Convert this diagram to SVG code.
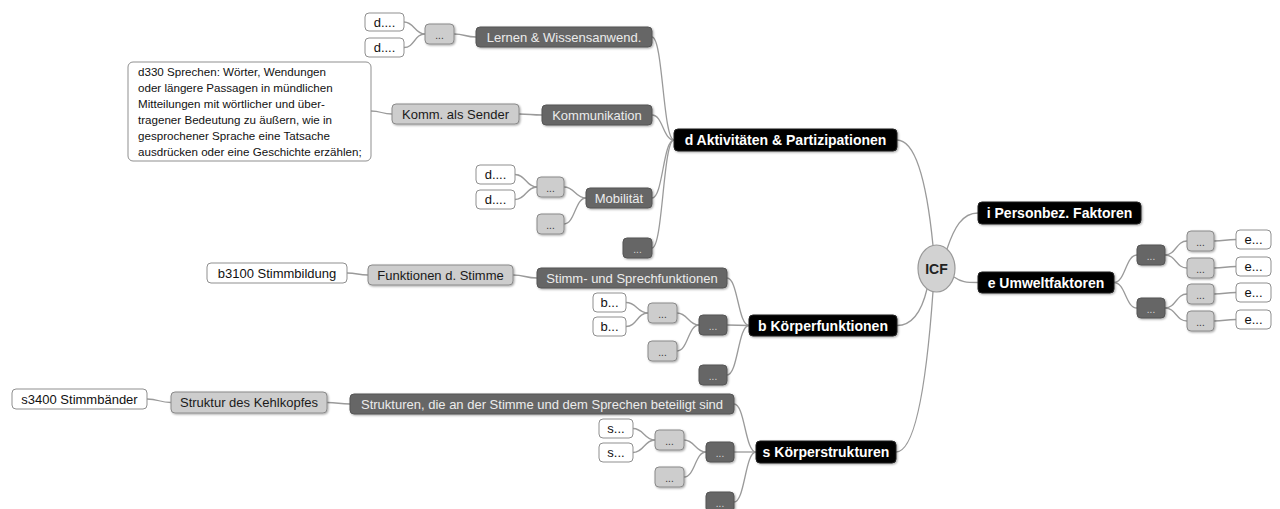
<svg xmlns="http://www.w3.org/2000/svg" width="1280" height="509" viewBox="0 0 1280 509">
<defs>
<filter id="sh" x="-10%" y="-20%" width="130%" height="160%">
<feDropShadow dx="1" dy="1" stdDeviation="0.8" flood-color="#000" flood-opacity="0.35"/>
</filter>
<style>
text{font-family:"Liberation Sans",Arial,sans-serif;}
.blk{fill:#000;stroke:#222;stroke-width:1;filter:url(#sh);}
.dk{fill:#666;stroke:#555;stroke-width:1;filter:url(#sh);}
.lt{fill:#cdcdcd;stroke:#8a8a8a;stroke-width:1;filter:url(#sh);}
.wh{fill:#fff;stroke:#8f8f8f;stroke-width:1;}
.tb{fill:#fff;font-size:14px;font-weight:bold;text-anchor:middle;}
.td{fill:#ececec;font-size:13px;text-anchor:middle;}
.tl{fill:#1a1a1a;font-size:13px;text-anchor:middle;}
.tw{fill:#111;font-size:13px;text-anchor:middle;}
.dd{fill:#d8d8d8;font-size:10px;text-anchor:middle;}
.dl{fill:#333;font-size:10px;text-anchor:middle;}
.para{fill:#111;font-size:11.6px;}
.con path{fill:none;stroke:#9a9a9a;stroke-width:1.3;}
</style>
</defs>
<rect width="1280" height="509" fill="#fff"/>

<g class="con" id="connectors">
<path d="M404,22 C414.5,22 414.5,34 425,34"/>
<path d="M404,47.5 C414.5,47.5 414.5,34 425,34"/>
<path d="M454,34 C465,34 465,37 476,37"/>
<path d="M652,37 C663,37 663,140 674,140"/>
<path d="M371,111 C381.5,111 381.5,114 392,114"/>
<path d="M519,114 C530.5,114 530.5,115 542,115"/>
<path d="M652,115 C663,115 663,140 674,140"/>
<path d="M515,174.5 C526,174.5 526,187 537,187"/>
<path d="M515,199.5 C526,199.5 526,187 537,187"/>
<path d="M564,187 C575,187 575,198 586,198"/>
<path d="M564,224 C575,224 575,198 586,198"/>
<path d="M652,198 C663,198 663,140 674,140"/>
<path d="M652,248 C663,248 663,140 674,140"/>
<path d="M897,140 C914,140 926,175 933,245.5"/>
<path d="M347,273 C357.5,273 357.5,275 368,275"/>
<path d="M513,275 C525,275 525,278 537,278"/>
<path d="M727,278 C738,278 738,325.5 749,325.5"/>
<path d="M626,302.5 C637,302.5 637,313 648,313"/>
<path d="M626,326.5 C637,326.5 637,313 648,313"/>
<path d="M677,313 C688,313 688,325 699,325"/>
<path d="M677,351 C688,351 688,325 699,325"/>
<path d="M727,325 L749,325.5"/>
<path d="M727,375 C738,375 738,325.5 749,325.5"/>
<path d="M897,325.5 C913,325.5 922,310 927,289"/>
<path d="M147,399 C159,399 159,402.5 171,402.5"/>
<path d="M327,402.5 C338.5,402.5 338.5,404 350,404"/>
<path d="M734,404 C745,404 745,452 756,452"/>
<path d="M633,428.5 C644,428.5 644,440 655,440"/>
<path d="M633,452.5 C644,452.5 644,440 655,440"/>
<path d="M684,440 C695,440 695,452 706,452"/>
<path d="M684,477 C695,477 695,452 706,452"/>
<path d="M734,452 L756,452"/>
<path d="M734,502 C745,502 745,452 756,452"/>
<path d="M896,452 C914,452 926,390 933,291.5"/>
<path d="M947,249 C954,228 962,213 978,213"/>
<path d="M954,277 C961,282 966,282.5 978,282.5"/>
<path d="M1114,282.5 C1125.5,282.5 1125.5,255 1137,255"/>
<path d="M1114,282.5 C1125.5,282.5 1125.5,308 1137,308"/>
<path d="M1165,255 C1176,255 1176,241 1187,241"/>
<path d="M1165,255 C1176,255 1176,268 1187,268"/>
<path d="M1165,308 C1176,308 1176,294 1187,294"/>
<path d="M1165,308 C1176,308 1176,321 1187,321"/>
<path d="M1214,241 C1225,241 1225,239.5 1236,239.5"/>
<path d="M1214,268 C1225,268 1225,266.5 1236,266.5"/>
<path d="M1214,294 C1225,294 1225,292.5 1236,292.5"/>
<path d="M1214,321 C1225,321 1225,319.5 1236,319.5"/>
</g>

<g id="icf">
<ellipse cx="936.5" cy="268.5" rx="18.5" ry="23.5" fill="#d2d2d2" stroke="#999" stroke-width="1.2"/>
<text x="936.5" y="274" style="fill:#222;font-size:14px;font-weight:bold;text-anchor:middle;">ICF</text>
</g>

<!-- right side -->
<g id="n-i"><rect class="blk" x="978" y="202" width="163" height="22" rx="4"/><text class="tb" x="1059.5" y="218">i Personbez. Faktoren</text></g>
<g id="n-e"><rect class="blk" x="978" y="272" width="136" height="21" rx="4"/><text class="tb" x="1046" y="287.5">e Umweltfaktoren</text></g>
<g id="n-e-d1"><rect class="dk" x="1137" y="245" width="28" height="20" rx="4"/><text class="dd" x="1151" y="259.5">...</text></g>
<g id="n-e-d2"><rect class="dk" x="1137" y="298" width="28" height="20" rx="4"/><text class="dd" x="1151" y="312.5">...</text></g>
<g id="n-e-g1"><rect class="lt" x="1187" y="231" width="27" height="20" rx="4"/><text class="dl" x="1200.5" y="245.5">...</text></g>
<g id="n-e-g2"><rect class="lt" x="1187" y="258" width="27" height="20" rx="4"/><text class="dl" x="1200.5" y="272.5">...</text></g>
<g id="n-e-g3"><rect class="lt" x="1187" y="284" width="27" height="20" rx="4"/><text class="dl" x="1200.5" y="298.5">...</text></g>
<g id="n-e-g4"><rect class="lt" x="1187" y="311" width="27" height="20" rx="4"/><text class="dl" x="1200.5" y="325.5">...</text></g>
<g id="n-e-w1"><rect class="wh" x="1236" y="230" width="35" height="19" rx="4"/><text class="tw" x="1253.5" y="244">e...</text></g>
<g id="n-e-w2"><rect class="wh" x="1236" y="257" width="35" height="19" rx="4"/><text class="tw" x="1253.5" y="271">e...</text></g>
<g id="n-e-w3"><rect class="wh" x="1236" y="283" width="35" height="19" rx="4"/><text class="tw" x="1253.5" y="297">e...</text></g>
<g id="n-e-w4"><rect class="wh" x="1236" y="310" width="35" height="19" rx="4"/><text class="tw" x="1253.5" y="324">e...</text></g>

<!-- d branch -->
<g id="n-d"><rect class="blk" x="674" y="129" width="223" height="22" rx="4"/><text class="tb" x="785.5" y="145">d Aktivitäten &amp; Partizipationen</text></g>
<g id="n-lernen"><rect class="dk" x="476" y="27" width="176" height="20" rx="4"/><text class="td" x="564" y="41.5">Lernen &amp; Wissensanwend.</text></g>
<g id="n-lernen-g"><rect class="lt" x="425" y="24" width="29" height="20" rx="4"/><text class="dl" x="439.5" y="38.5">...</text></g>
<g id="n-lernen-w1"><rect class="wh" x="365" y="13" width="39" height="18" rx="4"/><text class="tw" x="384.5" y="26.5">d....</text></g>
<g id="n-lernen-w2"><rect class="wh" x="365" y="38" width="39" height="19" rx="4"/><text class="tw" x="384.5" y="52">d....</text></g>
<g id="n-komm"><rect class="dk" x="542" y="105" width="110" height="20" rx="4"/><text class="td" x="597" y="119.5">Kommunikation</text></g>
<g id="n-sender"><rect class="lt" x="392" y="104" width="127" height="20" rx="4"/><text class="tl" x="455.5" y="118.5">Komm. als Sender</text></g>
<g id="n-d330">
<rect class="wh" x="128" y="62" width="243" height="99" rx="5"/>
<text class="para" x="138" y="76">d330 Sprechen: Wörter, Wendungen</text>
<text class="para" x="138" y="92">oder längere Passagen in mündlichen</text>
<text class="para" x="138" y="108">Mitteilungen mit wörtlicher und über-</text>
<text class="para" x="138" y="124">tragener Bedeutung zu äußern, wie in</text>
<text class="para" x="138" y="140">gesprochener Sprache eine Tatsache</text>
<text class="para" x="138" y="156">ausdrücken oder eine Geschichte erzählen;</text>
</g>
<g id="n-mob"><rect class="dk" x="586" y="188" width="66" height="20" rx="4"/><text class="td" x="619" y="202.5">Mobilität</text></g>
<g id="n-mob-g1"><rect class="lt" x="537" y="177" width="27" height="20" rx="4"/><text class="dl" x="550.5" y="191.5">...</text></g>
<g id="n-mob-g2"><rect class="lt" x="537" y="214" width="27" height="20" rx="4"/><text class="dl" x="550.5" y="228.5">...</text></g>
<g id="n-mob-w1"><rect class="wh" x="476" y="165" width="39" height="19" rx="4"/><text class="tw" x="495.5" y="179">d....</text></g>
<g id="n-mob-w2"><rect class="wh" x="476" y="190" width="39" height="19" rx="4"/><text class="tw" x="495.5" y="204">d....</text></g>
<g id="n-d-more"><rect class="dk" x="623" y="238" width="29" height="20" rx="4"/><text class="dd" x="637.5" y="252.5">...</text></g>

<!-- b branch -->
<g id="n-b"><rect class="blk" x="749" y="315" width="148" height="21" rx="4"/><text class="tb" x="823" y="330.5">b Körperfunktionen</text></g>
<g id="n-stimm"><rect class="dk" x="537" y="268" width="190" height="20" rx="4"/><text class="td" x="632" y="282.5">Stimm- und Sprechfunktionen</text></g>
<g id="n-funkt"><rect class="lt" x="368" y="265" width="145" height="20" rx="4"/><text class="tl" x="440.5" y="279.5">Funktionen d. Stimme</text></g>
<g id="n-b3100"><rect class="wh" x="207" y="263" width="140" height="20" rx="4"/><text class="tw" x="277" y="277.5">b3100 Stimmbildung</text></g>
<g id="n-b-d1"><rect class="dk" x="699" y="315" width="28" height="20" rx="4"/><text class="dd" x="713" y="329.5">...</text></g>
<g id="n-b-g1"><rect class="lt" x="648" y="303" width="29" height="20" rx="4"/><text class="dl" x="662.5" y="317.5">...</text></g>
<g id="n-b-w1"><rect class="wh" x="593" y="293" width="33" height="19" rx="4"/><text class="tw" x="609.5" y="307">b...</text></g>
<g id="n-b-w2"><rect class="wh" x="593" y="317" width="33" height="19" rx="4"/><text class="tw" x="609.5" y="331">b...</text></g>
<g id="n-b-g2"><rect class="lt" x="648" y="341" width="29" height="20" rx="4"/><text class="dl" x="662.5" y="355.5">...</text></g>
<g id="n-b-d2"><rect class="dk" x="699" y="365" width="28" height="20" rx="4"/><text class="dd" x="713" y="379.5">...</text></g>

<!-- s branch -->
<g id="n-s"><rect class="blk" x="756" y="441" width="140" height="22" rx="4"/><text class="tb" x="826" y="457">s Körperstrukturen</text></g>
<g id="n-strukturen"><rect class="dk" x="350" y="394" width="384" height="20" rx="4"/><text class="td" x="542" y="408.5">Strukturen, die an der Stimme und dem Sprechen beteiligt sind</text></g>
<g id="n-kehlkopf"><rect class="lt" x="171" y="392" width="156" height="21" rx="4"/><text class="tl" x="249" y="407">Struktur des Kehlkopfes</text></g>
<g id="n-s3400"><rect class="wh" x="12" y="389" width="135" height="20" rx="4"/><text class="tw" x="79.5" y="403.5">s3400 Stimmbänder</text></g>
<g id="n-s-d1"><rect class="dk" x="706" y="442" width="28" height="20" rx="4"/><text class="dd" x="720" y="456.5">...</text></g>
<g id="n-s-g1"><rect class="lt" x="655" y="430" width="29" height="20" rx="4"/><text class="dl" x="669.5" y="444.5">...</text></g>
<g id="n-s-w1"><rect class="wh" x="599" y="419" width="34" height="19" rx="4"/><text class="tw" x="616" y="433">s...</text></g>
<g id="n-s-w2"><rect class="wh" x="599" y="443" width="34" height="19" rx="4"/><text class="tw" x="616" y="457">s...</text></g>
<g id="n-s-g2"><rect class="lt" x="655" y="467" width="29" height="20" rx="4"/><text class="dl" x="669.5" y="481.5">...</text></g>
<g id="n-s-d2"><rect class="dk" x="706" y="492" width="28" height="20" rx="4"/><text class="dd" x="720" y="506.5">...</text></g>
</svg>
